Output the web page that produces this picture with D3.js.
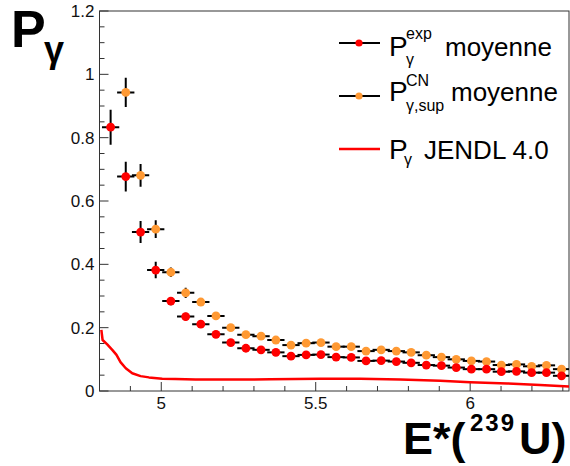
<!DOCTYPE html>
<html>
<head>
<meta charset="utf-8">
<script src="https://cdn.jsdelivr.net/npm/d3@7"></script>
<style>
  html, body { margin: 0; padding: 0; background: #fff; }
  svg { display: block; }
  text { font-family: "Liberation Sans", Arial, Helvetica, sans-serif; }
</style>
</head>
<body>
<svg id="chart" width="570" height="466"></svg>
<script>
// ---------- data ----------
const energy = [4.836, 4.885, 4.933, 4.982, 5.031, 5.079, 5.128, 5.177, 5.225, 5.274,
                5.323, 5.371, 5.420, 5.469, 5.517, 5.566, 5.615, 5.663, 5.712, 5.761,
                5.809, 5.858, 5.907, 5.955, 6.004, 6.053, 6.101, 6.150, 6.199, 6.247, 6.296];

const pExp = [0.833, 0.677, 0.502, 0.382, 0.284, 0.235, 0.211, 0.179, 0.153, 0.135,
              0.130, 0.122, 0.110, 0.114, 0.115, 0.107, 0.106, 0.095, 0.096, 0.093,
              0.089, 0.082, 0.080, 0.074, 0.069, 0.069, 0.061, 0.062, 0.058, 0.058, 0.048];
const pExpErr = [0.055, 0.047, 0.035, 0.026, 0.013, 0.012, 0.010, 0.009, 0.008, 0.008,
                 0.007, 0.007, 0.007, 0.006, 0.006, 0.006, 0.006, 0.006, 0.006, 0.006,
                 0.005, 0.005, 0.005, 0.005, 0.005, 0.005, 0.005, 0.005, 0.005, 0.005, 0.005];

const pCN = [null, 0.943, 0.681, 0.511, 0.375, 0.310, 0.281, 0.237, 0.200, 0.178,
             0.173, 0.161, 0.145, 0.151, 0.153, 0.140, 0.140, 0.126, 0.130, 0.126,
             0.122, 0.113, 0.107, 0.100, 0.095, 0.093, 0.082, 0.084, 0.078, 0.081, 0.069];
const pCNErr = [null, 0.046, 0.036, 0.028, 0.015, 0.016, 0.012, 0.010, 0.009, 0.008,
                0.008, 0.008, 0.007, 0.007, 0.007, 0.007, 0.007, 0.006, 0.006, 0.006,
                0.006, 0.006, 0.006, 0.006, 0.006, 0.006, 0.006, 0.006, 0.006, 0.006, 0.006];

const energyErr = 0.028;

const jendlE = [4.806, 4.810, 4.825, 4.842, 4.855, 4.868, 4.885, 4.906, 4.933, 4.960,
                5.003, 5.046, 5.111, 5.224, 5.353, 5.515, 5.644, 5.774, 5.903, 6.000,
                6.120, 6.226, 6.320];
const jendlP = [0.193, 0.161, 0.147, 0.129, 0.114, 0.091, 0.072, 0.056, 0.047, 0.043,
                0.039, 0.038, 0.036, 0.036, 0.037, 0.039, 0.039, 0.036, 0.032, 0.028,
                0.024, 0.019, 0.014];

const yTicks = [0, 0.2, 0.4, 0.6, 0.8, 1, 1.2];
const yTickLabels = ["0", "0.2", "0.4", "0.6", "0.8", "1", "1.2"];
const xTicks = [5, 5.5, 6];
const xTickLabels = ["5", "5.5", "6"];

// ---------- layout ----------
const svg = d3.select("#chart");
const L = 99.5, R = 569, T = 11, B = 391;
const x = d3.scaleLinear().domain([4.8, 6.32]).range([L, R]);
const y = d3.scaleLinear().domain([0, 1.2]).range([B, T]);

const axisColor = "#333";

// frame
svg.append("rect").attr("x", L).attr("y", T).attr("width", R - L).attr("height", B - T)
  .attr("fill", "none").attr("stroke", axisColor).attr("stroke-width", 1);

// y axis ticks (inside)
const yMinor = d3.range(0, 1.2001, 0.05);
svg.append("g").selectAll("line").data(yMinor).join("line")
  .attr("x1", L).attr("x2", (d, i) => L + (i % 4 === 0 ? 9 : 5))
  .attr("y1", d => y(d)).attr("y2", d => y(d))
  .attr("stroke", axisColor).attr("stroke-width", 1);
svg.append("g").selectAll("text").data(yTicks).join("text")
  .attr("x", L - 5).attr("y", d => y(d))
  .attr("dy", "0.36em").attr("text-anchor", "end")
  .attr("font-size", 17).attr("fill", "#111")
  .text((d, i) => yTickLabels[i]);

// x axis ticks (inside)
const xMinor = d3.range(4.8, 6.3201, 0.1);
svg.append("g").selectAll("line").data(xMinor).join("line")
  .attr("x1", d => x(d)).attr("x2", d => x(d))
  .attr("y1", B).attr("y2", d => B - (Math.abs(d * 2 - Math.round(d * 2)) < 1e-6 ? 9 : 5))
  .attr("stroke", axisColor).attr("stroke-width", 1);
svg.append("g").selectAll("text").data(xTicks).join("text")
  .attr("x", d => x(d)).attr("y", 409)
  .attr("text-anchor", "middle")
  .attr("font-size", 17).attr("fill", "#111")
  .text((d, i) => xTickLabels[i]);

// clip
svg.append("clipPath").attr("id", "clip").append("rect")
  .attr("x", L).attr("y", T).attr("width", R - L).attr("height", B - T);
const plot = svg.append("g").attr("clip-path", "url(#clip)");

// JENDL line
const jendl = jendlE.map((e, i) => [e, jendlP[i]]);
plot.append("path").datum(jendl)
  .attr("d", d3.line().x(d => x(d[0])).y(d => y(d[1])))
  .attr("fill", "none").attr("stroke", "#ff0000").attr("stroke-width", 2.5)
  .attr("stroke-linejoin", "round");

function drawSeries(vals, errs, color) {
  const pts = energy.map((e, i) => ({ e, v: vals[i], err: errs[i] })).filter(d => d.v != null);
  const g = plot.append("g");
  g.selectAll("line.h").data(pts).join("line").attr("class", "h")
    .attr("x1", d => x(d.e - energyErr)).attr("x2", d => x(d.e + energyErr))
    .attr("y1", d => y(d.v)).attr("y2", d => y(d.v))
    .attr("stroke", "#000").attr("stroke-width", 2);
  g.selectAll("line.v").data(pts).join("line").attr("class", "v")
    .attr("x1", d => x(d.e)).attr("x2", d => x(d.e))
    .attr("y1", d => y(d.v - d.err)).attr("y2", d => y(d.v + d.err))
    .attr("stroke", "#000").attr("stroke-width", 2);
  g.selectAll("circle").data(pts).join("circle")
    .attr("cx", d => x(d.e)).attr("cy", d => y(d.v)).attr("r", 4.4)
    .attr("fill", color);
}
drawSeries(pCN, pCNErr, "#ff9933");
drawSeries(pExp, pExpErr, "#ff0000");

// ---------- legend ----------
const leg = svg.append("g");
const rows = [43, 96, 149];
// row 1
leg.append("line").attr("x1", 339).attr("x2", 380).attr("y1", rows[0]).attr("y2", rows[0])
  .attr("stroke", "#000").attr("stroke-width", 2);
leg.append("circle").attr("cx", 359).attr("cy", rows[0]).attr("r", 3.6).attr("fill", "#ff0000");
leg.append("text").attr("x", 389).attr("y", 56).attr("font-size", 28).text("P");
leg.append("text").attr("x", 406).attr("y", 39).attr("font-size", 16).text("exp");
leg.append("text").attr("x", 406).attr("y", 65).attr("font-size", 16).text("γ");
leg.append("text").attr("x", 445).attr("y", 56).attr("font-size", 26).text("moyenne");
// row 2
leg.append("line").attr("x1", 339).attr("x2", 380).attr("y1", rows[1]).attr("y2", rows[1])
  .attr("stroke", "#000").attr("stroke-width", 2);
leg.append("circle").attr("cx", 359).attr("cy", rows[1]).attr("r", 3.6).attr("fill", "#ff9933");
leg.append("text").attr("x", 389).attr("y", 101).attr("font-size", 28).text("P");
leg.append("text").attr("x", 406).attr("y", 86).attr("font-size", 16).text("CN");
leg.append("text").attr("x", 406).attr("y", 111).attr("font-size", 16).text("γ,sup");
leg.append("text").attr("x", 451).attr("y", 101).attr("font-size", 26).text("moyenne");
// row 3
leg.append("line").attr("x1", 339).attr("x2", 380).attr("y1", rows[2]).attr("y2", rows[2])
  .attr("stroke", "#ff0000").attr("stroke-width", 2.5);
leg.append("text").attr("x", 389).attr("y", 159).attr("font-size", 28).text("P");
leg.append("text").attr("x", 404).attr("y", 165).attr("font-size", 16).text("γ");
leg.append("text").attr("x", 424).attr("y", 159).attr("font-size", 26).text("JENDL 4.0");

// ---------- axis titles ----------
svg.append("text").attr("x", 11).attr("y", 47).attr("font-size", 52).attr("font-weight", "bold").text("P");
svg.append("text").attr("x", 44).attr("y", 62).attr("font-size", 36).attr("font-weight", "bold").text("γ");

svg.append("text").attr("x", 403).attr("y", 454).attr("font-size", 45).attr("font-weight", "bold").text("E*(");
svg.append("text").attr("x", 470).attr("y", 431).attr("font-size", 24).attr("font-weight", "bold")
  .attr("letter-spacing", 2).text("239");
svg.append("text").attr("x", 519).attr("y", 454).attr("font-size", 45).attr("font-weight", "bold").text("U)");
</script>
</body>
</html>
